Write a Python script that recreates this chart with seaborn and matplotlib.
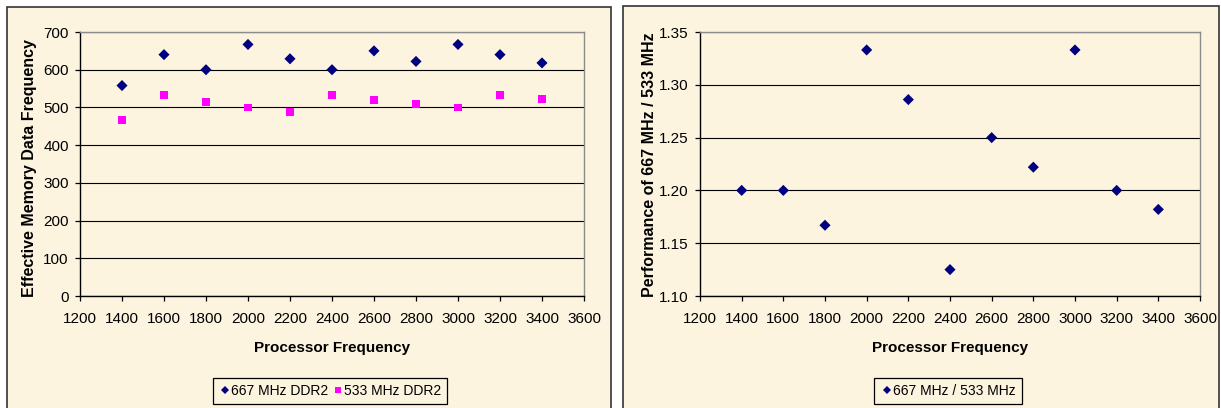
import matplotlib
matplotlib.use("Agg")
import matplotlib.pyplot as plt
import seaborn as sns
import pandas as pd
from matplotlib.patches import Rectangle

# ---- data ----
proc_freq = [1400, 1600, 1800, 2000, 2200, 2400, 2600, 2800, 3000, 3200, 3400]
ddr2_667 = [558, 640, 600, 667, 629, 600, 650, 622, 667, 640, 618]
ddr2_533 = [467, 533, 514, 500, 489, 533, 520, 509, 500, 533, 523]
ratio = [1.200, 1.200, 1.167, 1.333, 1.286, 1.125, 1.250, 1.222, 1.333, 1.200, 1.182]
series_names = ["667 MHz DDR2", "533 MHz DDR2"]
ratio_name = "667 MHz / 533 MHz"
x_ticks = [1200, 1400, 1600, 1800, 2000, 2200, 2400, 2600, 2800, 3000, 3200, 3400, 3600]
y_ticks_left = [0, 100, 200, 300, 400, 500, 600, 700]
y_ticks_right = [1.10, 1.15, 1.20, 1.25, 1.30, 1.35]

sns.set_theme(style="white")
plt.rcParams["font.family"] = ["Liberation Sans", "DejaVu Sans"]
plt.rcParams["text.color"] = "black"
plt.rcParams["axes.labelcolor"] = "black"

BG = "#FCF4DF"
W, H = 1221, 408
fig = plt.figure(figsize=(W / 100, H / 100), dpi=100)
fig.patch.set_facecolor("white")

def px_rect(x0, y0, x1, y1):
    return [x0 / W, 1 - y1 / H, (x1 - x0) / W, (y1 - y0) / H]

# panel backgrounds
for (x0, y0, x1, y1) in [(7, 7, 611, 412), (623, 6, 1219, 412)]:
    l, b, w, h = px_rect(x0, y0, x1, y1)
    fig.patches.append(Rectangle((l, b), w, h, transform=fig.transFigure,
                                 facecolor=BG, edgecolor="#333333", linewidth=1.2, zorder=-10))

AX1 = (80, 32, 584, 296)
AX2 = (700, 32, 1200, 296)
ax1 = fig.add_axes(px_rect(*AX1))
ax2 = fig.add_axes(px_rect(*AX2))

df = pd.DataFrame({
    "freq": proc_freq * 2,
    "val": ddr2_667 + ddr2_533,
    "series": [series_names[0]] * len(proc_freq) + [series_names[1]] * len(proc_freq),
})
df2 = pd.DataFrame({"freq": proc_freq, "val": ratio, "series": [ratio_name] * len(proc_freq)})

palette = {series_names[0]: "#000080", series_names[1]: "#FF00FF"}
sns.scatterplot(data=df, x="freq", y="val", hue="series", style="series",
                markers={series_names[0]: "D", series_names[1]: "s"},
                palette=palette, s=32, linewidth=0, ax=ax1, zorder=3)
sns.scatterplot(data=df2, x="freq", y="val", hue="series", style="series",
                markers={ratio_name: "D"}, palette={ratio_name: "#000080"},
                s=32, linewidth=0, ax=ax2, zorder=3)

def style_ax(ax, box, yticks, ylabel, fmt, ylab_x, ylab_y):
    x0, y0, x1, y1 = box
    ax.set_facecolor(BG)
    ax.set_xlim(1200, 3600)
    ax.set_ylim(yticks[0], yticks[-1])
    ax.set_xticks(x_ticks)
    ax.set_xticklabels([str(v) for v in x_ticks])
    ax.set_yticks(yticks)
    ax.set_yticklabels([fmt.format(v) for v in yticks])
    ax.yaxis.grid(True, color="black", linewidth=0.8)
    ax.xaxis.grid(False)
    ax.set_axisbelow(True)
    for side in ["top", "right"]:
        ax.spines[side].set_color("#8C8C8C")
        ax.spines[side].set_linewidth(1.0)
    for side in ["left", "bottom"]:
        ax.spines[side].set_color("black")
        ax.spines[side].set_linewidth(1.0)
    ax.tick_params(axis="both", direction="out", length=3.6, width=0.9, color="black",
                   labelsize=11, labelcolor="black", bottom=True, left=True)
    ax.tick_params(axis="x", pad=8)
    ax.tick_params(axis="y", pad=4.5)
    ax.set_xlabel("Processor Frequency", fontsize=11, fontweight="bold", color="black")
    ax.xaxis.label.set_va("center")
    ax.xaxis.set_label_coords(0.5, (y1 - 348) / (y1 - y0))
    ax.set_ylabel(ylabel, fontsize=11.5, fontweight="bold", color="black")
    ax.yaxis.label.set_va("center")
    ax.yaxis.label.set_ha("center")
    ax.yaxis.set_label_coords((ylab_x - x0) / (x1 - x0), (y1 - ylab_y) / (y1 - y0))

style_ax(ax1, AX1, y_ticks_left, "Effective Memory Data Frequency", "{:.0f}", 30, 168)
style_ax(ax2, AX2, y_ticks_right, "Performance of 667 MHz / 533 MHz", "{:.2f}", 649, 165)

for ax, cx, cy in [(ax1, 330, 391), (ax2, 948, 391)]:
    h, l = ax.get_legend_handles_labels()
    ax.get_legend().remove()
    leg = fig.legend(h, l, loc="center", bbox_to_anchor=(cx / W, 1 - cy / H),
                     ncol=len(l), frameon=True, fancybox=False,
                     prop={"size": 10},
                     handletextpad=0.0, columnspacing=0.2, handlelength=0.9,
                     borderpad=0.45, borderaxespad=0, markerscale=0.75, labelcolor="black")
    fr = leg.get_frame()
    fr.set_edgecolor("black")
    fr.set_facecolor(BG)
    fr.set_linewidth(0.9)
    fr.set_alpha(1)

fig.savefig("out.png", dpi=100, facecolor="white")
